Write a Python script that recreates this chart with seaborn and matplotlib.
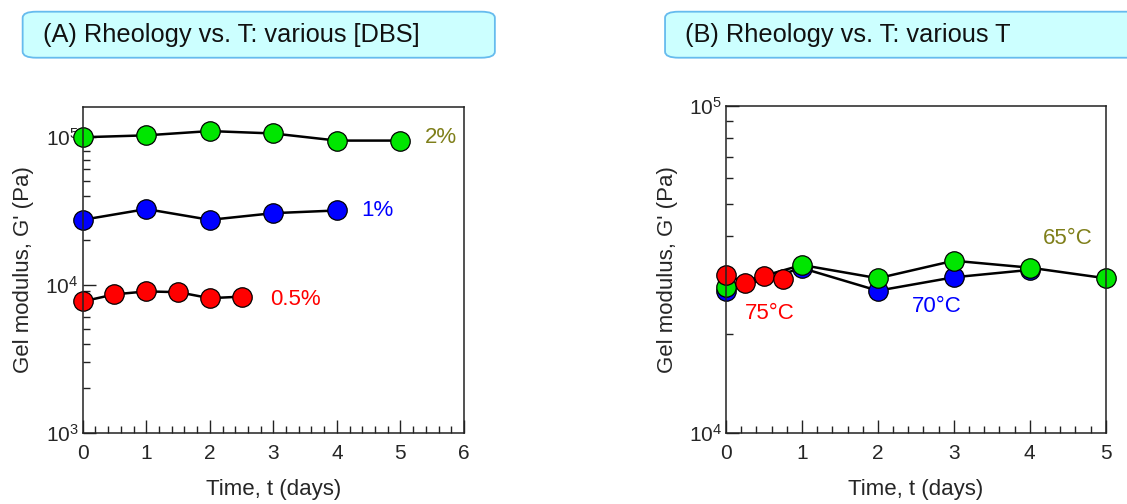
import numpy as np
import pandas as pd
import matplotlib
matplotlib.use("Agg")
import matplotlib.pyplot as plt
import seaborn as sns
from matplotlib.patches import FancyBboxPatch
from matplotlib.ticker import LogLocator, FixedLocator, MultipleLocator, FuncFormatter

# ---------------- data ----------------
# Panel A: various [DBS]
a_t_2 = [0, 1, 2, 3, 4, 5]
a_g_2 = [9.9e4, 1.02e5, 1.09e5, 1.05e5, 9.4e4, 9.4e4]
a_t_1 = [0, 1, 2, 3, 4]
a_g_1 = [2.74e4, 3.24e4, 2.74e4, 3.04e4, 3.17e4]
a_t_05 = [0, 0.5, 1, 1.5, 2, 2.5]
a_g_05 = [7.7e3, 8.6e3, 9.0e3, 8.9e3, 8.1e3, 8.3e3]

# Panel B: various T
b_t_70 = [0, 1, 2, 3, 4]
b_g_70 = [2.72e4, 3.19e4, 2.72e4, 2.99e4, 3.15e4]
b_t_65 = [0, 1, 2, 3, 4, 5]
b_g_65 = [2.80e4, 3.26e4, 2.97e4, 3.36e4, 3.20e4, 2.97e4]
b_t_75 = [0, 0.25, 0.5, 0.75]
b_g_75 = [3.04e4, 2.88e4, 3.01e4, 2.95e4]

titles = ["(A) Rheology vs. T: various [DBS]", "(B) Rheology vs. T: various T"]
xlabel = "Time, t (days)"
ylabel = "Gel modulus, G' (Pa)"

GREEN = "#00e600"
BLUE = "#0000ff"
RED = "#ff0000"
OLIVE = "#7f7f1a"

# ---------------- style ----------------
sns.set_style("white")
plt.rcParams["font.family"] = ["Liberation Sans", "DejaVu Sans"]
plt.rcParams["mathtext.fontset"] = "custom"
plt.rcParams["mathtext.rm"] = "Liberation Sans"
plt.rcParams["mathtext.it"] = "Liberation Sans"

fig = plt.figure(figsize=(11.27, 5.04), dpi=100)

axA = fig.add_axes([0.0734, 0.1415, 0.3383, 0.6462])
axB = fig.add_axes([0.6442, 0.1415, 0.3369, 0.6482])


def series(ax, t, g, face):
    df = pd.DataFrame({"t": t, "g": g})
    sns.lineplot(data=df, x="t", y="g", ax=ax, color="black", linewidth=1.8,
                 marker="o", markersize=14, markerfacecolor=face,
                 markeredgecolor="black", markeredgewidth=0.9,
                 estimator=None, sort=False, legend=False, clip_on=False)


series(axA, a_t_2, a_g_2, GREEN)
series(axA, a_t_1, a_g_1, BLUE)
series(axA, a_t_05, a_g_05, RED)

series(axB, b_t_70, b_g_70, BLUE)
series(axB, b_t_65, b_g_65, GREEN)
series(axB, b_t_75, b_g_75, RED)


def sci(v, pos):
    e = int(round(np.log10(v)))
    return r"$10^{%d}$" % e


def style(ax, xmax, ylim, majors):
    ax.set_yscale("log")
    ax.set_xlim(0, xmax)
    ax.set_ylim(*ylim)
    ax.xaxis.set_major_locator(MultipleLocator(1))
    ax.xaxis.set_minor_locator(MultipleLocator(0.2))
    ax.yaxis.set_major_locator(FixedLocator(majors))
    ax.yaxis.set_major_formatter(FuncFormatter(sci))
    ax.yaxis.set_minor_locator(LogLocator(base=10, subs=np.arange(2, 10)))
    ax.yaxis.set_minor_formatter(FuncFormatter(lambda v, p: ""))
    ax.tick_params(axis="both", which="both", bottom=True, left=True,
                   top=False, right=False)
    ax.tick_params(axis="both", which="major", direction="in", length=9.5,
                   width=1.0, labelsize=15, color="#222222", pad=8)
    ax.tick_params(axis="y", which="major", pad=3)
    ax.tick_params(axis="both", which="minor", direction="in", length=5,
                   width=1.0, color="#222222")
    for s in ax.spines.values():
        s.set_visible(True)
        s.set_color("#222222")
        s.set_linewidth(1.1)
    ax.set_xlabel(xlabel, fontsize=16, labelpad=12)
    ax.set_ylabel(ylabel, fontsize=16, labelpad=8)
    ax.grid(False)
    for ln in ax.lines:
        ln.set_clip_on(False)


style(axA, 6, (1e3, 10 ** 5.2), [1e3, 1e4, 1e5])
style(axB, 5, (1e4, 1e5), [1e4, 1e5])

# series labels
axA.text(5.64, 9.8e4, "2%", color=OLIVE, fontsize=16, ha="center", va="center")
axA.text(4.63, 3.16e4, "1%", color=BLUE, fontsize=16, ha="center", va="center")
axA.text(3.35, 7.9e3, "0.5%", color=RED, fontsize=16, ha="center", va="center")

axB.text(0.58, 2.31e4, "75°C", color=RED, fontsize=16, ha="center", va="center")
axB.text(2.78, 2.43e4, "70°C", color=BLUE, fontsize=16, ha="center", va="center")
axB.text(4.5, 3.94e4, "65°C", color=OLIVE, fontsize=16, ha="center", va="center")

# title boxes
for x0, w, tx, title in [(0.0201, 0.419, 0.038, titles[0]),
                         (0.5901, 0.45, 0.608, titles[1])]:
    box = FancyBboxPatch((x0, 0.8855), w, 0.0913,
                         boxstyle="round,pad=0,rounding_size=0.012",
                         transform=fig.transFigure, facecolor="#ccffff",
                         edgecolor="#66bbee", linewidth=1.3, clip_on=False)
    fig.patches.append(box)
    fig.text(tx, 0.931, title, fontsize=18.3, ha="left", va="center",
             color="#111111")

fig.savefig("out.png", dpi=100)
